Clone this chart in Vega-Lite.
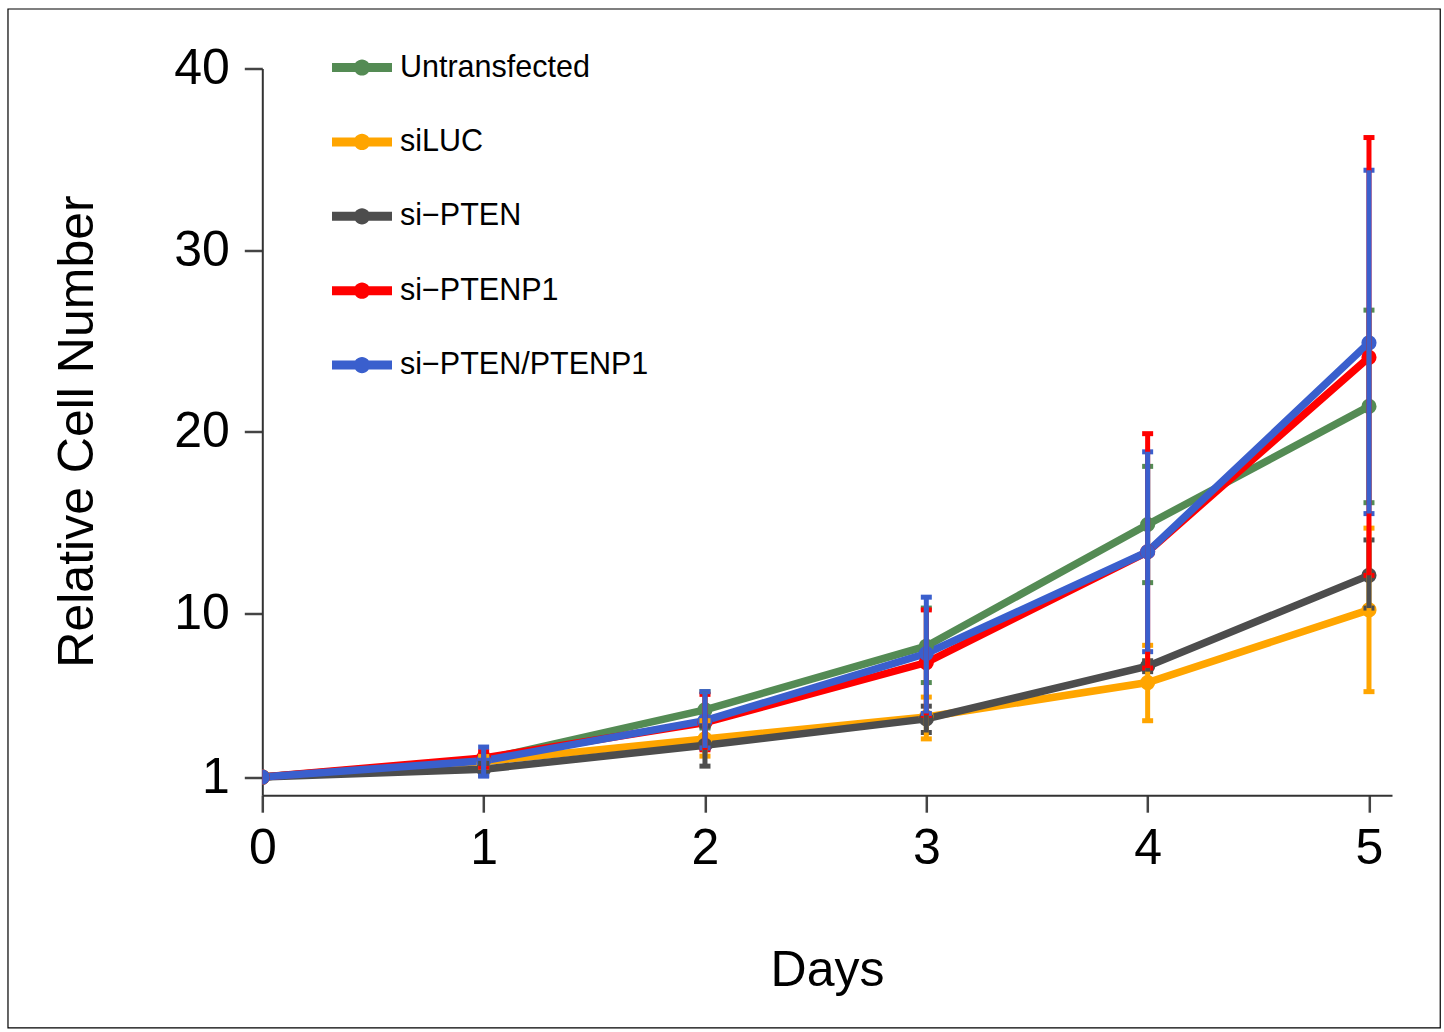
{
  "$schema": "https://vega.github.io/schema/vega-lite/v6.json",
  "autosize": "none",
  "padding": {"left": 262.3, "top": 68.5, "right": 52, "bottom": 236.8},
  "width": 1129.7,
  "height": 726.7,
  "background": "white",
  "config": {
    "view": {"stroke": null},
    "font": "Liberation Sans"
  },
  "data": {
    "values": [
      {"day": 0, "group": "Untransfected", "mean": 1, "lo": 1, "hi": 1},
      {"day": 1, "group": "Untransfected", "mean": 1.95, "lo": 1.65, "hi": 2.25},
      {"day": 2, "group": "Untransfected", "mean": 4.7, "lo": 3.7, "hi": 5.7},
      {"day": 3, "group": "Untransfected", "mean": 8.2, "lo": 6.2, "hi": 10.3},
      {"day": 4, "group": "Untransfected", "mean": 14.9, "lo": 11.7, "hi": 18.1},
      {"day": 5, "group": "Untransfected", "mean": 21.4, "lo": 16.1, "hi": 26.7},
      {"day": 0, "group": "siLUC", "mean": 1, "lo": 1, "hi": 1},
      {"day": 1, "group": "siLUC", "mean": 1.85, "lo": 1.55, "hi": 2.2},
      {"day": 2, "group": "siLUC", "mean": 3.1, "lo": 2.15, "hi": 4.1},
      {"day": 3, "group": "siLUC", "mean": 4.3, "lo": 3.1, "hi": 5.4},
      {"day": 4, "group": "siLUC", "mean": 6.2, "lo": 4.1, "hi": 8.25},
      {"day": 5, "group": "siLUC", "mean": 10.2, "lo": 5.7, "hi": 14.7},
      {"day": 0, "group": "si−PTEN", "mean": 1, "lo": 1, "hi": 1},
      {"day": 1, "group": "si−PTEN", "mean": 1.43, "lo": 1.1, "hi": 1.75},
      {"day": 2, "group": "si−PTEN", "mean": 2.75, "lo": 1.6, "hi": 3.8},
      {"day": 3, "group": "si−PTEN", "mean": 4.2, "lo": 3.45, "hi": 4.9},
      {"day": 4, "group": "si−PTEN", "mean": 7.1, "lo": 6.8, "hi": 7.4},
      {"day": 5, "group": "si−PTEN", "mean": 12.1, "lo": 10.3, "hi": 14.05},
      {"day": 0, "group": "si−PTENP1", "mean": 1, "lo": 1, "hi": 1},
      {"day": 1, "group": "si−PTENP1", "mean": 2.05, "lo": 1.55, "hi": 2.4},
      {"day": 2, "group": "si−PTENP1", "mean": 4.0, "lo": 2.5, "hi": 5.55},
      {"day": 3, "group": "si−PTENP1", "mean": 7.3, "lo": 4.4, "hi": 10.2},
      {"day": 4, "group": "si−PTENP1", "mean": 13.4, "lo": 7.0, "hi": 19.9},
      {"day": 5, "group": "si−PTENP1", "mean": 24.1, "lo": 12.1, "hi": 36.2},
      {"day": 0, "group": "si−PTEN/PTENP1", "mean": 1, "lo": 1, "hi": 1},
      {"day": 1, "group": "si−PTEN/PTENP1", "mean": 1.9, "lo": 1.05, "hi": 2.65},
      {"day": 2, "group": "si−PTEN/PTENP1", "mean": 4.1, "lo": 2.6, "hi": 5.7},
      {"day": 3, "group": "si−PTEN/PTENP1", "mean": 7.8, "lo": 4.5, "hi": 10.9},
      {"day": 4, "group": "si−PTEN/PTENP1", "mean": 13.4, "lo": 7.9, "hi": 18.9},
      {"day": 5, "group": "si−PTEN/PTENP1", "mean": 24.9, "lo": 15.5, "hi": 34.4}
    ]
  },
  "layer": [
    {
      "data": {"values": [{}]},
      "mark": {"type": "rect", "fill": "transparent", "stroke": "black", "strokeWidth": 1.2, "clip": false},
      "encoding": {
        "x": {"datum": -1.149, "type": "quantitative", "title": "Days", "scale": {"domain": [0, 5.104], "nice": false, "zero": false}},
        "x2": {"datum": 5.322},
        "y": {"datum": -12.81, "type": "quantitative", "title": "Relative Cell Number", "scale": {"domain": [0, 40], "nice": false, "zero": false}},
        "y2": {"datum": 43.275}
      }
    },
    {
      "mark": {"type": "line", "strokeWidth": 7.5, "clip": true},
      "encoding": {
        "x": {
          "field": "day", "type": "quantitative", "title": "Days",
          "scale": {"domain": [0, 5.104], "nice": false, "zero": false},
          "axis": {
            "values": [0, 1, 2, 3, 4, 5], "format": "d", "grid": false,
            "domain": true, "domainColor": "#333333", "domainWidth": 2,
            "tickSize": 17, "tickWidth": 2.5, "tickColor": "#444444",
            "labelFontSize": 50, "labelColor": "black", "labelPadding": 11,
            "labelFlush": false, "labelFont": "Liberation Sans",
            "title": "Days", "titleFontSize": 50, "titleFontWeight": "normal",
            "titleFont": "Liberation Sans", "titleColor": "black",
            "titleX": 564.7, "titleY": 190, "titleBaseline": "alphabetic", "titleAlign": "center"
          }
        },
        "y": {
          "field": "mean", "type": "quantitative", "title": "Relative Cell Number",
          "scale": {"domain": [0, 40], "nice": false, "zero": false},
          "axis": {
            "values": [1, 10, 20, 30, 40], "grid": false,
            "domain": true, "domainColor": "#333333", "domainWidth": 2,
            "tickSize": 18, "tickWidth": 2.5, "tickColor": "#444444",
            "labelFontSize": 50, "labelColor": "black", "labelPadding": 15,
            "labelFont": "Liberation Sans",
            "title": "Relative Cell Number", "titleFontSize": 50, "titleFontWeight": "normal",
            "titleFont": "Liberation Sans", "titleColor": "black", "titleAngle": -90,
            "titleX": -169.3, "titleY": 362.5, "titleBaseline": "alphabetic", "titleAlign": "center"
          }
        },
        "color": {
          "field": "group", "type": "nominal",
          "scale": {
            "domain": ["Untransfected", "siLUC", "si−PTEN", "si−PTENP1", "si−PTEN/PTENP1"],
            "range": ["#548B54", "#FFA500", "#4D4D4D", "#FF0000", "#3A5FCD"]
          },
          "legend": {
            "orient": "none", "legendX": 69.7, "legendY": -31, "title": null,
            "direction": "vertical",
            "symbolType": "M-1,-0.15H1V0.15H-1Z M0.27,0A0.27,0.27,0,1,1,-0.27,0A0.27,0.27,0,1,1,0.27,0Z",
            "symbolSize": 3600, "symbolStrokeWidth": 0,
            "labelFontSize": 30.5, "labelFont": "Liberation Sans", "labelColor": "black",
            "labelOffset": 8, "rowPadding": 28.4, "padding": 0, "labelLimit": 0,
            "encode": {
              "symbols": {
                "update": {
                  "fill": {"scale": "color", "field": "value"},
                  "stroke": {"value": "transparent"},
                  "opacity": {"value": 1}
                }
              }
            }
          }
        }
      }
    },
    {
      "mark": {"type": "point", "filled": true, "size": 230, "opacity": 1, "clip": true},
      "encoding": {
        "x": {"field": "day", "type": "quantitative", "title": "Days", "scale": {"domain": [0, 5.104], "nice": false, "zero": false}},
        "y": {"field": "mean", "type": "quantitative", "title": "Relative Cell Number", "scale": {"domain": [0, 40], "nice": false, "zero": false}},
        "color": {"field": "group", "type": "nominal"}
      }
    },
    {
      "transform": [{"filter": "datum.day > 0"}],
      "mark": {"type": "errorbar", "opacity": 1, "ticks": {"size": 11, "thickness": 5, "opacity": 1}, "rule": {"strokeWidth": 5, "opacity": 1}},
      "encoding": {
        "x": {"field": "day", "type": "quantitative", "title": "Days", "scale": {"domain": [0, 5.104], "nice": false, "zero": false}},
        "y": {"field": "lo", "type": "quantitative", "title": "Relative Cell Number", "scale": {"domain": [0, 40], "nice": false, "zero": false}},
        "y2": {"field": "hi"},
        "color": {"field": "group", "type": "nominal"}
      }
    }
  ]
}
